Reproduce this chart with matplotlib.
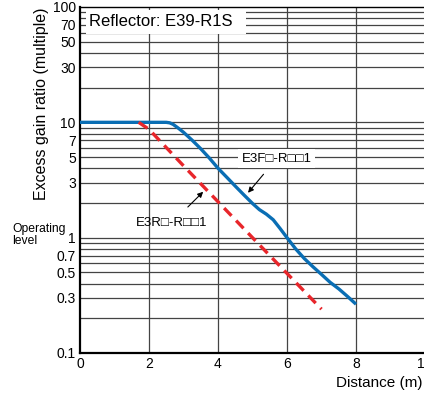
import matplotlib
matplotlib.use("Agg")
import matplotlib.pyplot as plt
from matplotlib.patches import Rectangle

plt.rcParams['font.family'] = ['Liberation Sans', 'DejaVu Sans']

# E3F-R..1 (solid blue)
e3f_x = [0, 2.5, 2.6, 2.7, 2.85, 3.0, 3.25, 3.5, 3.75, 4.0, 4.25, 4.5, 4.75,
         5.0, 5.2, 5.4, 5.6, 5.8, 6.0, 6.25, 6.5, 6.75, 7.0, 7.25, 7.5, 7.75, 8.0]
e3f_y = [10, 10, 9.9, 9.6, 8.9, 8.2, 7.0, 5.9, 4.9, 4.0, 3.35, 2.8, 2.35,
         1.98, 1.75, 1.6, 1.43, 1.2, 1.0, 0.8, 0.66, 0.56, 0.48, 0.41, 0.36, 0.31, 0.265]

# E3R-R..1 (dashed red)
e3r_x = [1.7, 2, 3, 4, 5, 6, 7]
e3r_y = [10, 8.7, 4.2, 2.05, 1.0, 0.49, 0.24]

y_ticks = [0.1, 0.3, 0.5, 0.7, 1, 3, 5, 7, 10, 30, 50, 70, 100]
y_ticklabels = ['0.1', '0.3', '0.5', '0.7', '1', '3', '5', '7', '10', '30', '50', '70', '100']
x_ticks = [0, 2, 4, 6, 8, 10]

fig = plt.figure(figsize=(4.24, 3.94), dpi=100)
ax = fig.add_axes([80 / 424, 1 - 353 / 394, 345 / 424, 346 / 394])

# grid
minor = [m * 10.0 ** d for d in (-1, 0, 1) for m in range(2, 10)]
for v in minor + [1, 10]:
    ax.axhline(v, color='#444444', lw=0.9, zorder=1)
for v in [2, 4, 6, 8]:
    ax.axvline(v, color='#444444', lw=0.9, zorder=1)

ax.plot(e3f_x, e3f_y, color='#0a6eb4', lw=2.4, zorder=4, solid_capstyle='butt')
ax.plot(e3r_x, e3r_y, color='#e8262b', lw=2.4, zorder=4, dashes=(3.2, 2.0))

ax.set_yscale('log')
ax.set_xlim(0, 10)
ax.set_ylim(0.1, 100)
ax.set_yticks(y_ticks)
ax.set_yticklabels(y_ticklabels)
ax.yaxis.set_minor_locator(matplotlib.ticker.NullLocator())
ax.set_xticks(x_ticks)
ax.tick_params(length=0, labelsize=10, pad=3)

for s in ['left', 'bottom']:
    ax.spines[s].set_linewidth(1.6)
for s in ['top', 'right']:
    ax.spines[s].set_linewidth(1.0)

# reflector label
ax.add_patch(Rectangle((0.017, 0.922), 0.463, 0.069, transform=ax.transAxes,
                       facecolor='white', edgecolor='none', zorder=3))
ax.text(0.026, 0.957, 'Reflector: E39-R1S', transform=ax.transAxes,
        fontsize=12, va='center', ha='left', zorder=5)

ax.annotate('E3F\u25a1-R\u25a1\u25a11', xy=(4.87, 2.45), xytext=(5.7, 4.85),
            fontsize=9.5, ha='center', va='center', zorder=5,
            bbox=dict(boxstyle='square,pad=0.25', fc='white', ec='none'),
            arrowprops=dict(arrowstyle='-|>', color='black', lw=0.8,
                            mutation_scale=8, shrinkA=6, shrinkB=0))
ax.annotate('E3R\u25a1-R\u25a1\u25a11', xy=(3.57, 2.5), xytext=(2.67, 1.35),
            fontsize=9.5, ha='center', va='center', zorder=5,
            arrowprops=dict(arrowstyle='-|>', color='black', lw=0.8,
                            mutation_scale=8, shrinkA=7, shrinkB=0))

fig.text(42 / 424, 1 - 104 / 394, 'Excess gain ratio (multiple)', rotation=90,
         fontsize=11.5, ha='center', va='center')
fig.text(12 / 424, 1 - 235 / 394, 'Operating\nlevel', fontsize=8.7,
         ha='left', va='center', linespacing=1.1)
fig.text(423 / 424, 1 - 383 / 394, 'Distance (m)', fontsize=11,
         ha='right', va='center')

fig.savefig('out.png', dpi=100)
